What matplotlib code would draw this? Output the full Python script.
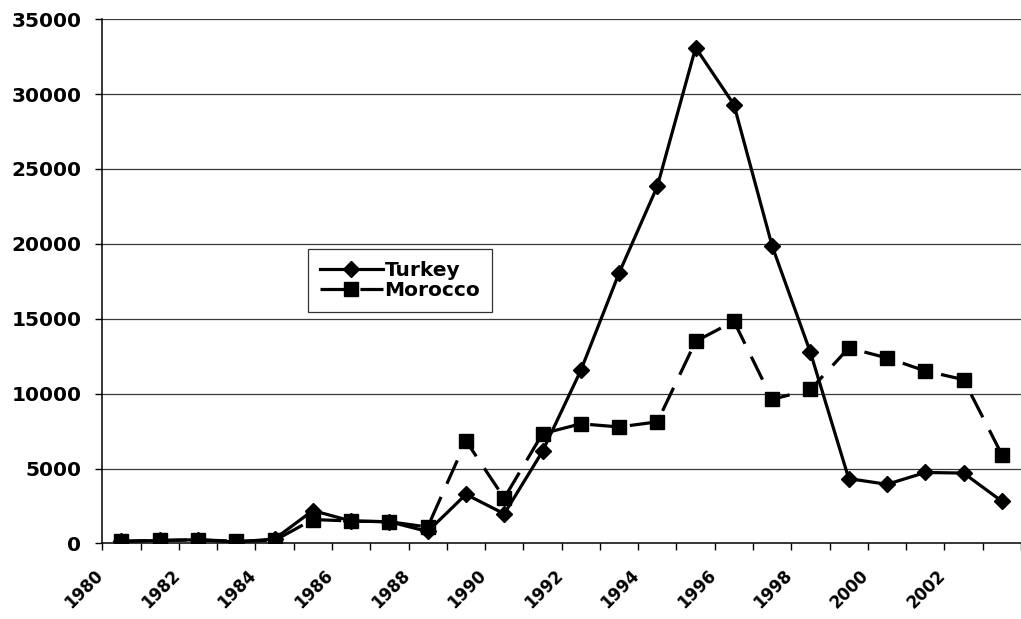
import numpy as np
import matplotlib
matplotlib.use("Agg")
import matplotlib.pyplot as plt
from matplotlib.transforms import ScaledTranslation

#----------
# Data
years = list(range(1980, 2004))
turkey = [150, 200, 250, 100, 300, 2200, 1500, 1450, 800, 3280, 1980, 6150,
          11550, 18050, 23850, 33100, 29300, 19850, 12750, 4330, 3950, 4740, 4700, 2820]
morocco = [150, 200, 250, 150, 200, 1600, 1500, 1450, 1100, 6850, 3030, 7330,
           7990, 7780, 8120, 13490, 14840, 9620, 10280, 13050, 12390, 11520, 10940, 5930]
yticks = [0, 5000, 10000, 15000, 20000, 25000, 30000, 35000]
#----------

font = 'DejaVu Sans'
fs = 14.5

fig = plt.figure(figsize=(10.21, 6.19), dpi=100)
ax = fig.add_axes([0.1002, 0.122, 0.8998, 0.847])

x = np.arange(len(years))
ax.plot(x, turkey, color='black', lw=2.3, marker='D', ms=8, label='Turkey', zorder=3)
ax.plot(x, morocco, color='black', lw=2.3, ls=(0, (8, 4.5)), marker='s', ms=10.5,
        label='Morocco', zorder=3)

ax.set_xlim(-0.5, len(years) - 0.5)
ax.set_ylim(0, 35000)

# y axis
ax.set_yticks(yticks)
ax.set_yticklabels([str(v) for v in yticks], fontsize=fs, fontweight='bold', family=font)
ax.tick_params(axis='y', direction='out', length=5, width=1, pad=10)
for v in yticks[1:]:
    ax.axhline(v, color='#3a3a3a', lw=0.9, zorder=1)

# x axis: ticks between categories, labels every two years
ax.set_xticks(np.arange(len(years) + 1) - 0.5, minor=True)
ax.set_xticks(x[::2])
ax.set_xticklabels([str(y) for y in years[::2]], fontsize=12, fontweight='bold',
                   family=font, rotation=45, ha='right', va='center', rotation_mode='anchor')
ax.tick_params(axis='x', which='major', length=0, pad=0)
ax.tick_params(axis='x', which='minor', direction='out', length=5, width=1)
off = ScaledTranslation(-15 / 72, -21 / 72, fig.dpi_scale_trans)
for lab in ax.get_xticklabels():
    lab.set_transform(lab.get_transform() + off)

for s in ['top', 'right']:
    ax.spines[s].set_visible(False)
ax.spines['left'].set_linewidth(1.1)
ax.spines['bottom'].set_linewidth(1.1)

leg = ax.legend(loc='upper left', bbox_to_anchor=(0.224, 0.5615), frameon=True, fancybox=False,
                edgecolor='black', prop={'family': font, 'weight': 'bold', 'size': fs},
                handlelength=3.1, handletextpad=0.1, borderpad=0.6, labelspacing=0.05,
                borderaxespad=0)
leg.get_frame().set_linewidth(0.9)

fig.savefig('out.png', dpi=100)
